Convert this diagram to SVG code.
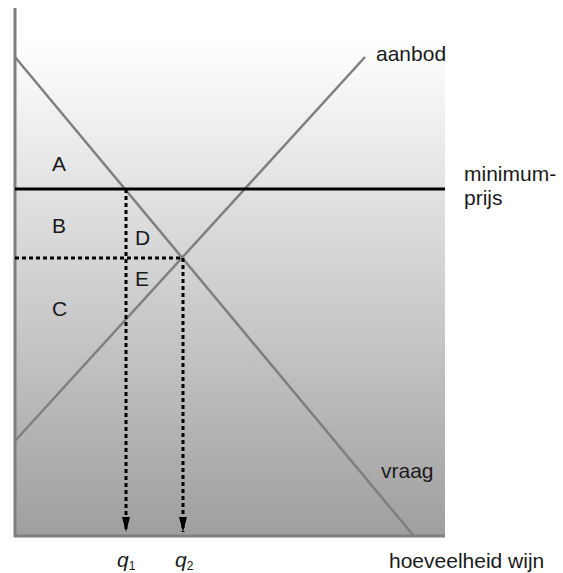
<svg xmlns="http://www.w3.org/2000/svg" width="563" height="573" viewBox="0 0 563 573">
<style>
text{font-family:"Liberation Sans",Arial,sans-serif;font-size:21px;fill:#1a1a1a}
.curve{stroke:#7f7f7f;stroke-width:2.5;fill:none}
.axis{stroke:#7f7f7f;stroke-width:3;fill:none}
.dash{stroke:#000;stroke-width:3;stroke-dasharray:4 3;fill:none}
.minp{stroke:#000;stroke-width:3}
.sub{font-size:12px;font-style:normal}
</style>
<defs>
<linearGradient id="bg" x1="0" y1="0" x2="0" y2="1">
<stop offset="0" stop-color="#ffffff"/>
<stop offset="0.06" stop-color="#ffffff"/>
<stop offset="1" stop-color="#9f9f9f"/>
</linearGradient>
<marker id="arrd" viewBox="0 0 15 8" refX="15" refY="4" markerWidth="15" markerHeight="8" orient="auto" markerUnits="userSpaceOnUse">
<path d="M0,0 L15,4 L0,8 z" fill="#000"/>
</marker>
</defs>
<rect id="background" x="15" y="8" width="430" height="528" fill="url(#bg)"/>
<g id="axes">
<line class="axis" x1="15" y1="8" x2="15" y2="537"/>
<line class="axis" x1="14" y1="536" x2="445" y2="536"/>
</g>
<g id="connectors">
<line id="vraag-line" class="curve" x1="15" y1="57" x2="413" y2="535"/>
<line id="aanbod-line" class="curve" x1="15" y1="441" x2="365" y2="57"/>
<line id="minimumprijs-line" class="minp" x1="15" y1="189" x2="445" y2="189"/>
<line class="dash" x1="15" y1="258" x2="183" y2="258"/>
<line class="dash" x1="126" y1="189" x2="126" y2="532" marker-end="url(#arrd)"/>
<line class="dash" x1="183" y1="258" x2="183" y2="532" marker-end="url(#arrd)"/>
</g>
<g id="areas">
<text x="52" y="171">A</text>
<text x="52" y="233">B</text>
<text x="52" y="316">C</text>
<text x="135" y="245">D</text>
<text x="135" y="286">E</text>
</g>
<g id="labels">
<text id="aanbod" x="376" y="61">aanbod</text>
<text id="minimumprijs" x="464" y="181">minimum-<tspan x="464" y="205">prijs</tspan></text>
<text id="vraag" x="381" y="478">vraag</text>
<text id="hoeveelheid" x="389" y="568">hoeveelheid wijn</text>
<text id="q1" x="117" y="567" font-style="italic" font-size="22">q<tspan class="sub" dy="3">1</tspan></text>
<text id="q2" x="175" y="567" font-style="italic" font-size="22">q<tspan class="sub" dy="3">2</tspan></text>
</g>
</svg>
